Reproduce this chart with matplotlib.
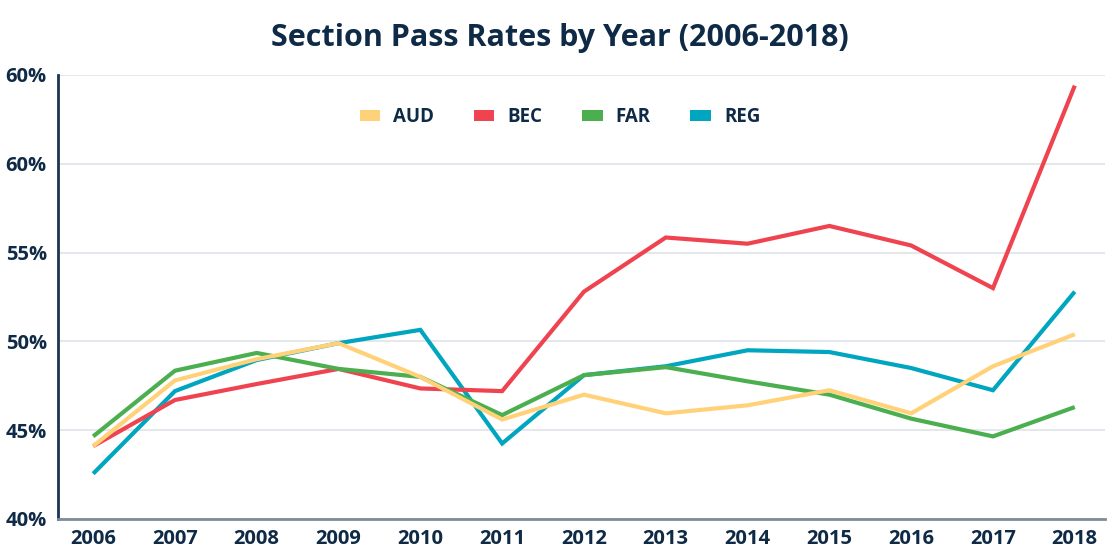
import matplotlib
matplotlib.use("Agg")
import matplotlib.pyplot as plt
from matplotlib.patches import Patch

years = [2006, 2007, 2008, 2009, 2010, 2011, 2012, 2013, 2014, 2015, 2016, 2017, 2018]
aud = [44.1, 47.8, 49.0, 49.9, 48.0, 45.6, 47.0, 45.95, 46.4, 47.25, 45.95, 48.6, 50.4]
bec = [44.1, 46.7, 47.6, 48.45, 47.35, 47.2, 52.8, 55.85, 55.5, 56.5, 55.4, 53.0, 64.4]
far = [44.65, 48.35, 49.35, 48.45, 48.0, 45.85, 48.1, 48.55, 47.75, 47.0, 45.65, 44.65, 46.3]
reg = [42.55, 47.2, 48.95, 49.9, 50.65, 44.25, 48.1, 48.6, 49.5, 49.4, 48.5, 47.25, 52.8]

series_names = ["AUD", "BEC", "FAR", "REG"]
series_vals = [aud, bec, far, reg]
colors = ["#FFD279", "#EF4350", "#4CAF4F", "#00A6BF"]
zorders = [5, 3, 4, 2]

ytick_vals = [40, 45, 50, 55, 60, 65]
ytick_labels = ["40%", "45%", "50%", "55%", "60%", "60%"]

plt.rcParams['font.family'] = ['Open Sans', 'DejaVu Sans']
navy = "#0F2A46"

fig = plt.figure(figsize=(11.17, 5.51), dpi=100)
ax = fig.add_axes([0.0519, 0.0581, 0.9374, 0.8058])

for name, vals, c, z in zip(series_names, series_vals, colors, zorders):
    ax.plot(years, vals, color=c, lw=3, zorder=z, solid_capstyle='butt', solid_joinstyle='miter')

ax.set_xlim(2005.57, 2018.37)
ax.set_ylim(40, 65)
ax.set_xticks(years)
ax.set_xticklabels([str(y) for y in years], fontsize=14.5, fontweight='bold', color=navy)
ax.set_yticks(ytick_vals)
ax.set_yticklabels(ytick_labels, fontsize=14.5, fontweight='bold', color=navy)
ax.tick_params(axis='both', length=0)
ax.tick_params(axis='x', pad=7)
ax.tick_params(axis='y', pad=8)

ax.grid(axis='y', color='#DFE3E8', lw=1.2, zorder=0)
ax.set_axisbelow(True)
for s in ['top', 'right']:
    ax.spines[s].set_visible(False)
ax.spines['left'].set_color('#1A3550')
ax.spines['left'].set_linewidth(2)
ax.spines['bottom'].set_color('#7C8C9A')
ax.spines['bottom'].set_linewidth(2)

handles = [Patch(facecolor=c, edgecolor='none', label=n) for n, c in zip(series_names, colors)]
leg = ax.legend(handles=handles, loc='center', bbox_to_anchor=((560 - 58) / (1105 - 58), (519 - 117) / (519 - 75)),
                ncol=4, frameon=False, handlelength=1.1, handleheight=0.5, handletextpad=0.7,
                columnspacing=2.1, prop={'weight': 'bold', 'size': 13.5})
for t in leg.get_texts():
    t.set_color(navy)

fig.text(0.5015, 1 - 38 / 551, "Section Pass Rates by Year (2006-2018)", ha='center', va='center',
         fontsize=22, fontweight='bold', color=navy)

fig.savefig("out.png", dpi=100)
